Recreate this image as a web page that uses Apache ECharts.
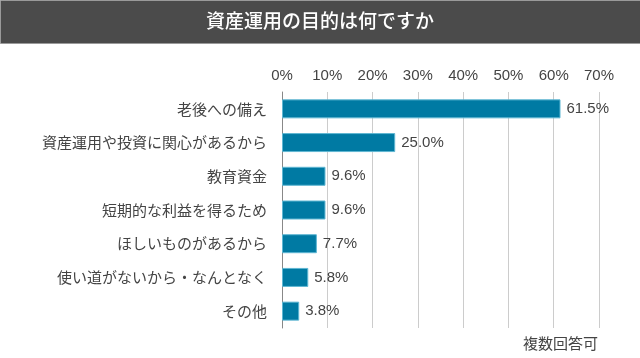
<!DOCTYPE html>
<html><head><meta charset="utf-8">
<script src="https://cdn.jsdelivr.net/npm/echarts@6/dist/echarts.min.js"></script>
<style>html,body{margin:0;padding:0;background:#fff}#c{width:640px;height:358px}</style>
</head><body><div id="c"></div>
<script>
const titleText = '資産運用の目的は何ですか';
const categories = ['老後への備え','資産運用や投資に関心があるから','教育資金','短期的な利益を得るため','ほしいものがあるから','使い道がないから・なんとなく','その他'];
const values = [61.5, 25.0, 9.6, 9.6, 7.7, 5.8, 3.8];
const tickValues = [0,10,20,30,40,50,60,70];
const noteText = '複数回答可';
const FONT = '"Noto Sans CJK JP", "Noto Sans", sans-serif';
const NUMFONT = '"Liberation Sans", "Noto Sans", sans-serif';
const chart = echarts.init(document.getElementById('c'), null, {renderer:'canvas'});
chart.setOption({
  animation:false,
  grid:{left:282, right:41, top:92, bottom:30, containLabel:false},
  xAxis:{type:'value', position:'top', min:tickValues[0], max:tickValues[tickValues.length-1], interval:10,
    axisLine:{show:false}, axisTick:{show:false},
    axisLabel:{formatter:'{value}%', color:'#444', fontSize:15, fontFamily:NUMFONT, margin:9},
    splitLine:{show:true, lineStyle:{color:'#cccccc', width:1}}},
  yAxis:{type:'category', inverse:true, data:categories,
    axisLine:{show:true, lineStyle:{color:'#888', width:1}}, axisTick:{show:false},
    axisLabel:{color:'#444', fontSize:15, fontFamily:FONT, margin:15}},
  series:[{type:'bar', data:values, barWidth:19,
    itemStyle:{color:'#007aa3', borderColor:'#5fb7d3', borderWidth:1},
    label:{show:true, position:'right', distance:6, formatter:p=>p.value.toFixed(1)+'%', color:'#444', fontSize:15, fontFamily:NUMFONT}}],
  graphic:[
    {type:'rect', left:0, top:0, shape:{width:640, height:43}, style:{fill:'#4b4b4b', stroke:'#9a9a9a', lineWidth:1}},
    {type:'text', left:'center', top:11, style:{text:titleText, fill:'#fff', fontSize:19, fontWeight:500, fontFamily:FONT}},
    {type:'text', right:42, top:336, style:{text:noteText, fill:'#444', fontSize:15, fontFamily:FONT}}
  ]
});
</script></body></html>
